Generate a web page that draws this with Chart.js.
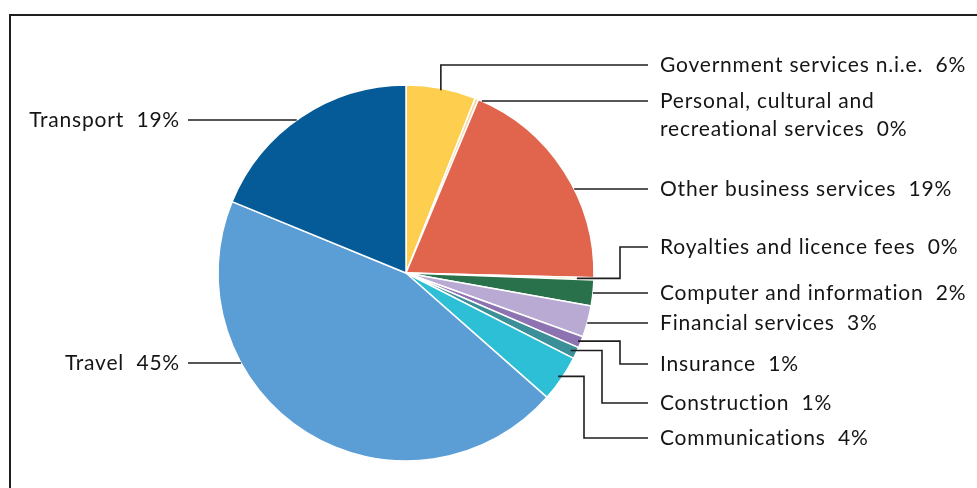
<!DOCTYPE html>
<html>
<head>
<meta charset="utf-8">
<title>Services exports by type</title>
<script src="https://cdn.jsdelivr.net/npm/chart.js@4/dist/chart.umd.min.js"></script>
<style>
    html, body { margin: 0; padding: 0; background: #fff; }
    #wrap { position: relative; width: 977px; height: 488px; overflow: hidden; }
    #frame { position: absolute; left: 9px; top: 14px; width: 1000px; height: 500px;
             border-top: 2px solid #1e1e1e; border-left: 2px solid #1e1e1e; }
    canvas { position: absolute; left: 0; top: 0; }
</style>
</head>
<body>
<div id="wrap">
    <div id="frame"></div>
    <canvas id="chart" width="977" height="488"></canvas>
</div>
<script>
// Slices, clockwise from 12 o'clock
const categories = [
    'Government services n.i.e.',
    ['Personal, cultural and', 'recreational services'],
    'Other business services',
    'Royalties and licence fees',
    'Computer and information',
    'Financial services',
    'Insurance',
    'Construction',
    'Communications',
    'Travel',
    'Transport'
];
const shares = [6.0, 0.3, 19.1, 0.2, 2.2, 2.7, 1.0, 1.0, 4.0, 44.7, 18.8];
const sliceColors = [
    '#fecf4e', '#f3d9a8', '#e0654c', '#b9d47c', '#29714a', '#b9aad4',
    '#8e73b2', '#3a8f99', '#2cbfd5', '#5b9dd5', '#045b97'
];

// Where each label sits; elbow = x of the bend, 'start' = bend right at the pie
const labelLayout = [
    { side: 'right', y: 65, elbow: 'start', inset: 2 },
    { side: 'right', y: 101 },
    { side: 'right', y: 189 },
    { side: 'right', y: 247, elbow: 620, inset: 17 },
    { side: 'right', y: 293 },
    { side: 'right', y: 323 },
    { side: 'right', y: 364, elbow: 620, inset: 3 },
    { side: 'right', y: 403, elbow: 602, inset: 6 },
    { side: 'right', y: 438, elbow: 584, inset: 4 },
    { side: 'left', y: 363 },
    { side: 'left', y: 120 }
];

const FONT = '21px "Lato", "Noto Sans", sans-serif';
const LETTER_SPACING = '0.8px';
const TEXT_COLOR = '#151515';
const RIGHT_LINE_END = 648;
const RIGHT_TEXT_X = 660;
const LEFT_LINE_END = 188;
const LEFT_TEXT_X = 180;
const LINE_HEIGHT = 28;

const total = shares.reduce((a, b) => a + b, 0);

const leaderLabels = {
    id: 'leaderLabels',
    afterDraw(chart) {
        const ctx = chart.ctx;
        const arcs = chart.getDatasetMeta(0).data;
        ctx.save();
        ctx.strokeStyle = '#1e1e1e';
        ctx.lineWidth = 1.6;
        ctx.fillStyle = TEXT_COLOR;
        ctx.font = FONT;
        ctx.letterSpacing = LETTER_SPACING;
        ctx.textBaseline = 'middle';

        arcs.forEach((arc, i) => {
            const layout = labelLayout[i];
            const { x: cx, y: cy, outerRadius, startAngle, endAngle } = arc.getProps(
                ['x', 'y', 'outerRadius', 'startAngle', 'endAngle'], true);
            const pct = Math.round(shares[i] / total * 100) + '%';
            const lines = Array.isArray(categories[i]) ? categories[i].slice() : [categories[i]];
            lines[lines.length - 1] += '  ' + pct;

            ctx.beginPath();
            if (layout.elbow !== undefined) {
                // bent leader from inside the slice
                const mid = (startAngle + endAngle) / 2;
                const r = outerRadius - layout.inset;
                const sx = cx + Math.cos(mid) * r;
                const sy = cy + Math.sin(mid) * r;
                const bx = layout.elbow === 'start' ? sx : layout.elbow;
                ctx.moveTo(sx, sy);
                ctx.lineTo(bx, sy);
                ctx.lineTo(bx, layout.y);
                ctx.lineTo(RIGHT_LINE_END, layout.y);
            } else {
                // straight leader from the pie rim at the label's height
                const dy = layout.y - cy;
                const dx = Math.sqrt(Math.max(outerRadius * outerRadius - dy * dy, 0));
                if (layout.side === 'right') {
                    ctx.moveTo(cx + dx, layout.y);
                    ctx.lineTo(RIGHT_LINE_END, layout.y);
                } else {
                    ctx.moveTo(cx - dx, layout.y);
                    ctx.lineTo(LEFT_LINE_END, layout.y);
                }
            }
            ctx.stroke();

            ctx.textAlign = layout.side === 'right' ? 'left' : 'right';
            const tx = layout.side === 'right' ? RIGHT_TEXT_X : LEFT_TEXT_X;
            lines.forEach((line, k) => {
                ctx.fillText(line, tx, layout.y + k * LINE_HEIGHT);
            });
        });
        ctx.restore();
    }
};

new Chart(document.getElementById('chart'), {
    type: 'pie',
    data: {
        labels: categories,
        datasets: [{
            data: shares,
            backgroundColor: sliceColors,
            borderColor: '#ffffff',
            borderWidth: 1.5
        }]
    },
    options: {
        responsive: false,
        animation: false,
        radius: 188,
        layout: { padding: { left: 218, right: 383, top: 85, bottom: 27 } },
        plugins: {
            legend: { display: false },
            tooltip: { enabled: false }
        }
    },
    plugins: [leaderLabels]
});
</script>
</body>
</html>
